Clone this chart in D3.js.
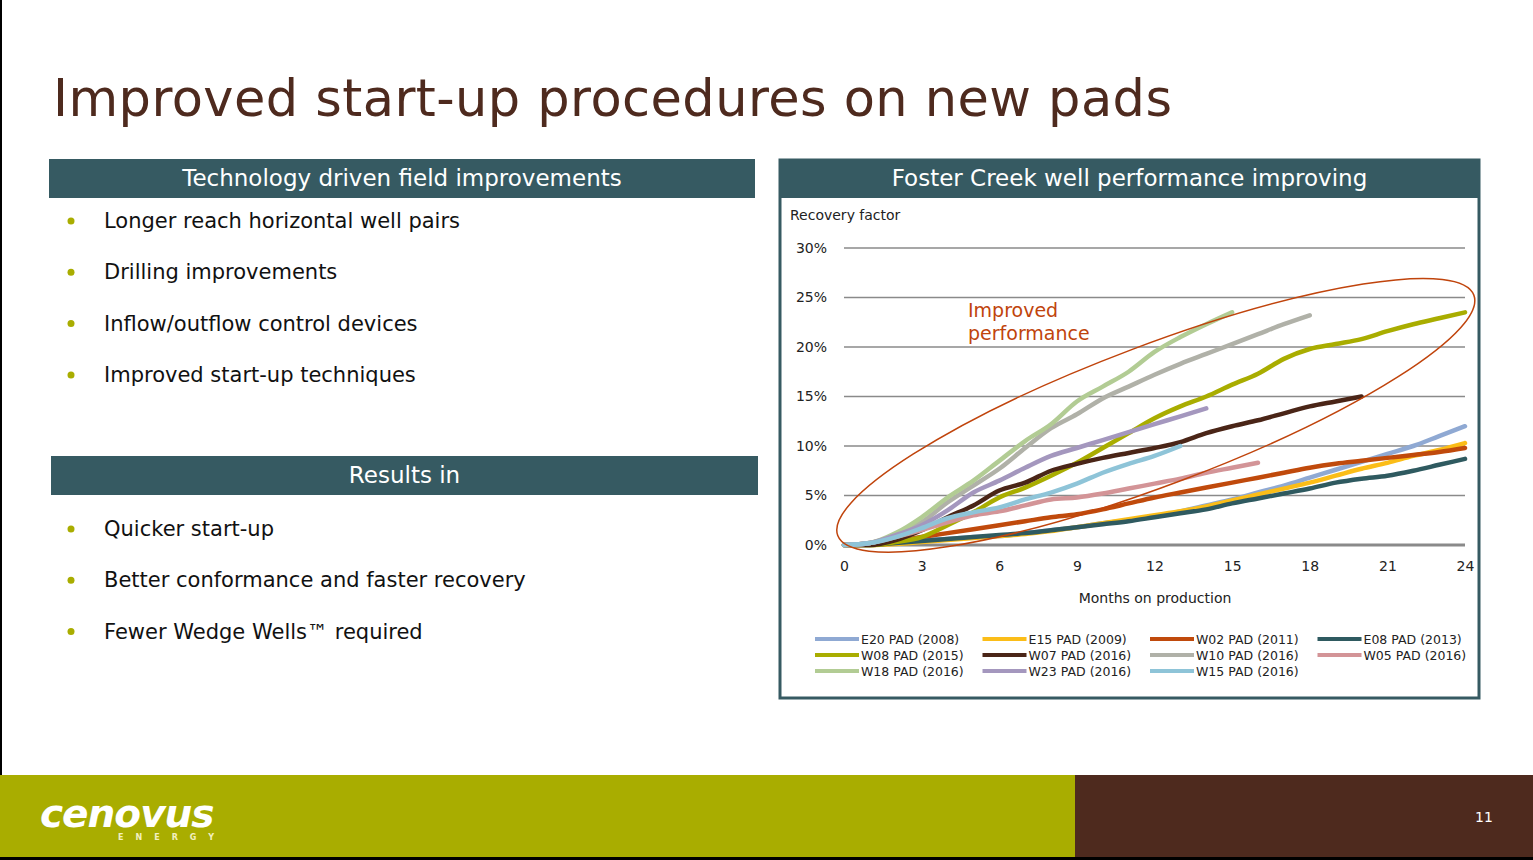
<!DOCTYPE html>
<html><head><meta charset="utf-8">
<script src="https://cdn.jsdelivr.net/npm/d3@7"></script>
<style>body{margin:0;background:#fff}svg{display:block;font-family:"DejaVu Sans",Verdana,sans-serif}</style>
</head><body><svg id="s" width="1533" height="860"></svg>
<script>
const months = d3.range(0, 25)
const yTicks = [0, 0.05, 0.10, 0.15, 0.20, 0.25, 0.30]
const xTicks = [0, 3, 6, 9, 12, 15, 18, 21, 24]
const seriesNames = ['E20 PAD (2008)', 'E15 PAD (2009)', 'W02 PAD (2011)', 'E08 PAD (2013)', 'W08 PAD (2015)', 'W07 PAD (2016)', 'W10 PAD (2016)', 'W05 PAD (2016)', 'W18 PAD (2016)', 'W23 PAD (2016)', 'W15 PAD (2016)']
const seriesColors = ['#8fa9d3', '#fbbd18', '#c04a0c', '#2f5a60', '#a9ad00', '#4a2517', '#b0b1a8', '#d39497', '#b2cc94', '#a497be', '#8ec4d8']
// values in %, month 0 onward
const e20 = [0, 0.1, 0.3, 0.5, 0.6, 0.8, 0.9, 1.2, 1.5, 1.8, 2.2, 2.5, 2.9, 3.4, 4, 4.6, 5.3, 6, 6.8, 7.6, 8.4, 9.2, 10, 11, 12]
const e15 = [0, 0, 0.1, 0.3, 0.5, 0.7, 0.9, 1.1, 1.4, 1.8, 2.2, 2.6, 3, 3.4, 3.9, 4.5, 5.1, 5.7, 6.3, 7, 7.7, 8.3, 9, 9.6, 10.3]
const w02 = [0, 0.1, 0.4, 0.8, 1.2, 1.6, 2, 2.4, 2.8, 3.1, 3.6, 4.2, 4.8, 5.3, 5.8, 6.3, 6.8, 7.3, 7.8, 8.2, 8.5, 8.8, 9.1, 9.4, 9.8]
const e08 = [0, 0, 0.2, 0.4, 0.6, 0.8, 1, 1.2, 1.5, 1.8, 2.1, 2.4, 2.8, 3.2, 3.6, 4.2, 4.7, 5.2, 5.7, 6.3, 6.7, 7, 7.5, 8.1, 8.7]
const w08 = [0, 0, 0.3, 0.8, 2, 3.3, 4.8, 5.8, 7, 8.3, 9.8, 11.3, 12.8, 14, 15, 16.2, 17.3, 18.8, 19.8, 20.3, 20.8, 21.6, 22.3, 22.9, 23.5]
const w07 = [0, 0, 0.5, 1.5, 2.8, 4, 5.5, 6.3, 7.5, 8.2, 8.8, 9.3, 9.8, 10.4, 11.3, 12, 12.6, 13.3, 14, 14.5, 15]
const w10 = [0, 0.2, 1, 2.3, 4.3, 6, 7.7, 9.8, 11.8, 13.2, 14.8, 16, 17.2, 18.3, 19.3, 20.3, 21.3, 22.3, 23.2]
const w05 = [0, 0.2, 0.8, 1.5, 2.3, 3, 3.4, 4, 4.6, 4.8, 5.2, 5.7, 6.2, 6.7, 7.3, 7.8, 8.3]
const w18 = [0, 0.2, 1.2, 2.8, 4.8, 6.5, 8.5, 10.5, 12.2, 14.5, 16, 17.5, 19.5, 21, 22.3, 23.5]
const w23 = [0, 0.2, 1, 2, 3.5, 5.3, 6.5, 7.8, 9, 9.8, 10.6, 11.4, 12.2, 13, 13.8]
const w15 = [0, 0.2, 0.8, 1.7, 2.7, 3.3, 3.8, 4.6, 5.3, 6.2, 7.3, 8.2, 9, 10]
const seriesValues = [e20, e15, w02, e08, w08, w07, w10, w05, w18, w23, w15]

const svg = d3.select('#s')
const dark = '#365a62'
const brown = '#4e2a1e'

// page frame and footer
svg.append('rect').attr('x', 0).attr('y', 0).attr('width', 2).attr('height', 860).attr('fill', '#000')
svg.append('rect').attr('x', 0).attr('y', 775).attr('width', 1075).attr('height', 82).attr('fill', '#a9ad00')
svg.append('rect').attr('x', 1075).attr('y', 775).attr('width', 458).attr('height', 82).attr('fill', brown)
svg.append('rect').attr('x', 0).attr('y', 857).attr('width', 1533).attr('height', 3).attr('fill', '#000')
svg.append('text').attr('x', 40).attr('y', 827).attr('fill', '#fff').attr('font-size', 39).attr('font-weight', 'bold')
    .attr('font-style', 'italic').attr('letter-spacing', -1).text('cenovus')
svg.append('text').attr('x', 118).attr('y', 840).attr('fill', '#f3f0c0').attr('font-size', 8).attr('font-weight', 'bold')
    .attr('letter-spacing', 12).text('ENERGY')
svg.append('text').attr('x', 1484).attr('y', 822).attr('fill', '#fff').attr('font-size', 14).attr('text-anchor', 'middle').text('11')

svg.append('text').attr('x', 53).attr('y', 116).attr('fill', brown).attr('font-size', 51).attr('textLength', 1119).text('Improved start-up procedures on new pads')

// left panel
const header = (x, y, w, txt) => {
    svg.append('rect').attr('x', x).attr('y', y).attr('width', w).attr('height', 39).attr('fill', dark)
    svg.append('text').attr('x', x + w / 2).attr('y', y + 27).attr('fill', '#fff').attr('font-size', 23)
        .attr('text-anchor', 'middle').text(txt)
}
header(49, 159, 706, 'Technology driven field improvements')
header(51, 456, 707, 'Results in')
const bullets = (items, y0) => items.forEach((t, i) => {
    const y = y0 + i * 51.3
    svg.append('circle').attr('cx', 71).attr('cy', y - 7).attr('r', 3.5).attr('fill', '#a9ad00')
    svg.append('text').attr('x', 104).attr('y', y).attr('font-size', 21).attr('fill', '#111').text(t)
})
bullets(['Longer reach horizontal well pairs', 'Drilling improvements', 'Inflow/outflow control devices', 'Improved start-up techniques'], 228)
bullets(['Quicker start-up', 'Better conformance and faster recovery', 'Fewer Wedge Wells™ required'], 536)

// right panel
svg.append('rect').attr('x', 780).attr('y', 160).attr('width', 699).attr('height', 538).attr('fill', '#fff').attr('stroke', dark).attr('stroke-width', 3)
header(779, 159, 701, 'Foster Creek well performance improving')

const x = d3.scaleLinear().domain([0, 24]).range([844, 1465])
const y = d3.scaleLinear().domain([0, 0.30]).range([545, 248])

svg.append('g').selectAll('line').data(yTicks).join('line')
    .attr('x1', 844).attr('x2', 1465).attr('y1', d => y(d)).attr('y2', d => y(d))
    .attr('stroke', '#8a8a8a').attr('stroke-width', d => d === 0 ? 3 : 1.5)

svg.append('g').attr('transform', 'translate(827,0)').style('font-size', '14px')
    .call(d3.axisLeft(y).tickValues(yTicks).tickSize(0).tickPadding(0).tickFormat(d3.format('.0%')))
    .call(g => g.select('.domain').remove())
    .call(g => g.selectAll('text').attr('fill', '#222').attr('font-family', '"DejaVu Sans",Verdana,sans-serif'))
svg.append('g').attr('transform', 'translate(0,558)').style('font-size', '14px')
    .call(d3.axisBottom(x).tickValues(xTicks).tickSize(0).tickPadding(3))
    .call(g => g.select('.domain').remove())
    .call(g => g.selectAll('text').attr('fill', '#222').attr('font-family', '"DejaVu Sans",Verdana,sans-serif'))

svg.append('text').attr('x', 790).attr('y', 220).attr('font-size', 14).attr('fill', '#222').text('Recovery factor')
svg.append('text').attr('x', 1155).attr('y', 603).attr('font-size', 14).attr('fill', '#222').attr('text-anchor', 'middle').text('Months on production')

const line = d3.line().x((d, i) => x(months[i])).y(d => y(d / 100)).curve(d3.curveMonotoneX)
svg.append('g').selectAll('path').data(seriesValues).join('path')
    .attr('d', line).attr('fill', 'none').attr('stroke-width', 4.5).attr('stroke-linecap', 'round')
    .attr('stroke', (d, i) => seriesColors[i])

// annotation ellipse
svg.append('ellipse').attr('cx', x(12.05)).attr('cy', y(0.131)).attr('rx', 340).attr('ry', 70)
    .attr('transform', `rotate(-20.7 ${x(12.05)} ${y(0.131)})`)
    .attr('fill', 'none').attr('stroke', '#c0440c').attr('stroke-width', 1.5)
svg.append('text').attr('x', 968).attr('y', 317).attr('font-size', 19).attr('fill', '#c0440c').text('Improved')
svg.append('text').attr('x', 968).attr('y', 340).attr('font-size', 19).attr('fill', '#c0440c').text('performance')

// legend
const lg = svg.append('g').selectAll('g').data(seriesNames).join('g')
    .attr('transform', (d, i) => `translate(${815 + (i % 4) * 167.5},${639 + Math.floor(i / 4) * 16})`)
lg.append('line').attr('x1', 0).attr('x2', 44).attr('stroke-width', 4).attr('stroke', (d, i) => seriesColors[i])
lg.append('text').attr('x', 46).attr('y', 5).attr('font-size', 12.5).attr('fill', '#222').text(d => d)
</script></body></html>
